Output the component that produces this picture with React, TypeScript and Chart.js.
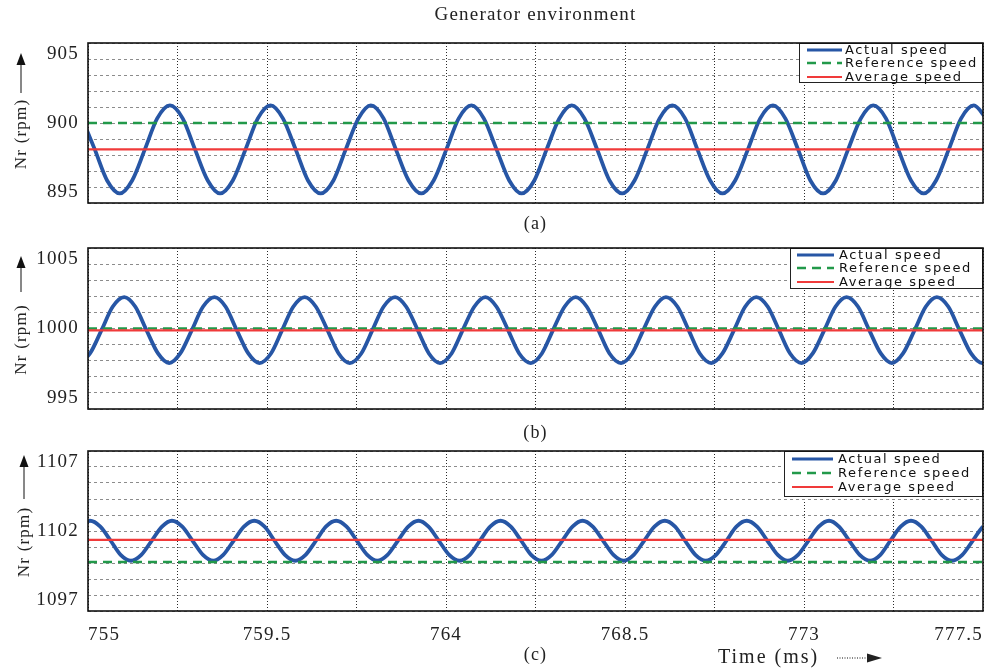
import React, { useEffect, useRef } from 'react';
import { Chart, registerables } from 'chart.js';

Chart.register(...registerables);

// ---------- shared axis / text data ----------
const X_MIN = 755;
const X_MAX = 777.5;
const X_STEP = 2.25;
const xTickLabels = ['755', '759.5', '764', '768.5', '773', '777.5'];
const legendLabels = ['Actual speed', 'Reference speed', 'Average speed'];
const chartTitle = 'Generator environment';
const yAxisTitle = 'Nr (rpm)';
const xAxisTitle = 'Time (ms)';
const captions = ['(a)', '(b)', '(c)'];

// ---------- panel (a) ----------
const timeA = [
  754.85, 755.17, 755.48, 755.80, 756.11, 756.43, 756.74,
  757.06, 757.38, 757.69, 758.01, 758.32, 758.64, 758.96, 759.27,
  759.59, 759.90, 760.22, 760.53, 760.85, 761.17, 761.48, 761.80,
  762.11, 762.43, 762.74, 763.06, 763.38, 763.69, 764.01, 764.32,
  764.64, 764.95, 765.27, 765.59, 765.90, 766.22, 766.53, 766.85,
  767.16, 767.48, 767.80, 768.11, 768.43, 768.74, 769.06, 769.37,
  769.69, 770.01, 770.32, 770.64, 770.95, 771.27, 771.59, 771.90,
  772.22, 772.53, 772.85, 773.16, 773.48, 773.80, 774.11, 774.43,
  774.74, 775.06, 775.37, 775.69, 776.01, 776.32, 776.64, 776.95,
  777.27, 777.58,
];
const speedA = [
  900.29, 898.35, 896.41, 895.60, 896.41, 898.35, 900.29,
  901.10, 900.29, 898.35, 896.41, 895.60, 896.41, 898.35, 900.29,
  901.10, 900.29, 898.35, 896.41, 895.60, 896.41, 898.35, 900.29,
  901.10, 900.29, 898.35, 896.41, 895.60, 896.41, 898.35, 900.29,
  901.10, 900.29, 898.35, 896.41, 895.60, 896.41, 898.35, 900.29,
  901.10, 900.29, 898.35, 896.41, 895.60, 896.41, 898.35, 900.29,
  901.10, 900.29, 898.35, 896.41, 895.60, 896.41, 898.35, 900.29,
  901.10, 900.29, 898.35, 896.41, 895.60, 896.41, 898.35, 900.29,
  901.10, 900.29, 898.35, 896.41, 895.60, 896.41, 898.35, 900.29,
  901.10, 900.29,
];
const refSpeedA = 900;
const avgSpeedA = 898.35;
const yRangeA = [895, 905];
const yLabelsA = ['895', '900', '905'];

// ---------- panel (b) ----------
const timeB = [
  754.77, 755.05, 755.34, 755.62,
  755.91, 756.19, 756.47, 756.76, 757.04, 757.32, 757.61, 757.89,
  758.18, 758.46, 758.74, 759.03, 759.31, 759.60, 759.88, 760.16,
  760.45, 760.73, 761.02, 761.30, 761.58, 761.87, 762.15, 762.43,
  762.72, 763.00, 763.29, 763.57, 763.85, 764.14, 764.42, 764.71,
  764.99, 765.27, 765.56, 765.84, 766.13, 766.41, 766.69, 766.98,
  767.26, 767.54, 767.83, 768.11, 768.40, 768.68, 768.96, 769.25,
  769.53, 769.82, 770.10, 770.38, 770.67, 770.95, 771.24, 771.52,
  771.80, 772.09, 772.37, 772.65, 772.94, 773.22, 773.51, 773.79,
  774.07, 774.36, 774.64, 774.93, 775.21, 775.49, 775.78, 776.06,
  776.34, 776.63, 776.91, 777.20, 777.48, 777.76,
];
const speedB = [
  997.85, 998.45, 999.90, 1001.35,
  1001.95, 1001.35, 999.90, 998.45, 997.85, 998.45, 999.90, 1001.35,
  1001.95, 1001.35, 999.90, 998.45, 997.85, 998.45, 999.90, 1001.35,
  1001.95, 1001.35, 999.90, 998.45, 997.85, 998.45, 999.90, 1001.35,
  1001.95, 1001.35, 999.90, 998.45, 997.85, 998.45, 999.90, 1001.35,
  1001.95, 1001.35, 999.90, 998.45, 997.85, 998.45, 999.90, 1001.35,
  1001.95, 1001.35, 999.90, 998.45, 997.85, 998.45, 999.90, 1001.35,
  1001.95, 1001.35, 999.90, 998.45, 997.85, 998.45, 999.90, 1001.35,
  1001.95, 1001.35, 999.90, 998.45, 997.85, 998.45, 999.90, 1001.35,
  1001.95, 1001.35, 999.90, 998.45, 997.85, 998.45, 999.90, 1001.35,
  1001.95, 1001.35, 999.90, 998.45, 997.85, 998.45,
];
const refSpeedB = 1000;
const avgSpeedB = 999.88;
const yRangeB = [995, 1005];
const yLabelsB = ['995', '1000', '1005'];

// ---------- panel (c) ----------
const timeC = [
  754.79,
  755.05, 755.31, 755.57, 755.82, 756.08, 756.34, 756.60, 756.86,
  757.11, 757.37, 757.63, 757.89, 758.15, 758.40, 758.66, 758.92,
  759.18, 759.44, 759.69, 759.95, 760.21, 760.47, 760.73, 760.98,
  761.24, 761.50, 761.76, 762.02, 762.27, 762.53, 762.79, 763.05,
  763.31, 763.56, 763.82, 764.08, 764.34, 764.60, 764.85, 765.11,
  765.37, 765.63, 765.89, 766.14, 766.40, 766.66, 766.92, 767.18,
  767.43, 767.69, 767.95, 768.21, 768.47, 768.72, 768.98, 769.24,
  769.50, 769.76, 770.01, 770.27, 770.53, 770.79, 771.05, 771.30,
  771.56, 771.82, 772.08, 772.34, 772.59, 772.85, 773.11, 773.37,
  773.63, 773.88, 774.14, 774.40, 774.66, 774.92, 775.17, 775.43,
  775.69, 775.95, 776.21, 776.46, 776.72, 776.98, 777.24, 777.50,
  777.75,
];
const speedC = [
  1102.27,
  1102.64, 1102.27, 1101.39, 1100.51, 1100.14, 1100.51, 1101.39, 1102.27,
  1102.64, 1102.27, 1101.39, 1100.51, 1100.14, 1100.51, 1101.39, 1102.27,
  1102.64, 1102.27, 1101.39, 1100.51, 1100.14, 1100.51, 1101.39, 1102.27,
  1102.64, 1102.27, 1101.39, 1100.51, 1100.14, 1100.51, 1101.39, 1102.27,
  1102.64, 1102.27, 1101.39, 1100.51, 1100.14, 1100.51, 1101.39, 1102.27,
  1102.64, 1102.27, 1101.39, 1100.51, 1100.14, 1100.51, 1101.39, 1102.27,
  1102.64, 1102.27, 1101.39, 1100.51, 1100.14, 1100.51, 1101.39, 1102.27,
  1102.64, 1102.27, 1101.39, 1100.51, 1100.14, 1100.51, 1101.39, 1102.27,
  1102.64, 1102.27, 1101.39, 1100.51, 1100.14, 1100.51, 1101.39, 1102.27,
  1102.64, 1102.27, 1101.39, 1100.51, 1100.14, 1100.51, 1101.39, 1102.27,
  1102.64, 1102.27, 1101.39, 1100.51, 1100.14, 1100.51, 1101.39, 1102.27,
  1102.64,
];
const refSpeedC = 1100.06;
const avgSpeedC = 1101.44;
const yRangeC = [1097, 1107];
const yLabelsC = ['1097', '1102', '1107'];

// ---------- styles ----------
const BLUE = '#2756a5';
const GREEN = '#22994a';
const RED = '#f03a3a';
const SERIF = "'Liberation Serif', 'Times New Roman', serif";

const panels = [
  {
    time: timeA, speed: speedA, ref: refSpeedA, avg: avgSpeedA, yRange: yRangeA, yLabels: yLabelsA,
    caption: captions[0], top: 0, height: 236, padTop: 0, xAxisH: 33, capPad: 1.2,
    showTitle: true, showX: false, yTitlePad: 11,
    legend: { w: 184, h: 40, lx1: 8, lx2: 43, tx: 46, rows: [7, 20, 34] },
    arrow: { x: 21, tip: 10, base: 50 },
  },
  {
    time: timeB, speed: speedB, ref: refSpeedB, avg: avgSpeedB, yRange: yRangeB, yLabels: yLabelsB,
    caption: captions[1], top: 236, height: 209, padTop: 12, xAxisH: 36, capPad: 1.2,
    showTitle: false, showX: false, yTitlePad: 11,
    legend: { w: 193, h: 41, lx1: 7, lx2: 44, tx: 49, rows: [7, 20, 34] },
    arrow: { x: 21, tip: 8, base: 44 },
  },
  {
    time: timeC, speed: speedC, ref: refSpeedC, avg: avgSpeedC, yRange: yRangeC, yLabels: yLabelsC,
    caption: captions[2], top: 445, height: 224, padTop: 6, xAxisH: 58, capPad: 3.2,
    showTitle: false, showX: true, yTitlePad: 14,
    legend: { w: 199, h: 46, lx1: 8, lx2: 49, tx: 54, rows: [8, 22, 36] },
    arrow: { x: 24, tip: 4, base: 48 },
  },
];

const legendWidths = [3, 2.5, 2];

const decorPlugin = {
  id: 'panelDecor',
  beforeDraw(chart: any) {
    (chart.ctx as any).letterSpacing = '1.2px';
  },
  afterDraw(chart: any, _args: any, opts: any) {
    const ctx = chart.ctx as any;
    const a = chart.chartArea;
    ctx.save();
    ctx.setLineDash([]);

    // legend box
    const L = opts.legend;
    const bx = a.right - L.w;
    const by = a.top;
    ctx.fillStyle = '#ffffff';
    ctx.fillRect(bx, by, L.w, L.h);
    ctx.strokeStyle = '#222';
    ctx.lineWidth = 1;
    ctx.strokeRect(bx + 0.5, by + 0.5, L.w - 1, L.h - 1);
    ctx.font = "13px 'DejaVu Sans', sans-serif";
    ctx.letterSpacing = '1.6px';
    ctx.textAlign = 'left';
    ctx.textBaseline = 'middle';
    chart.data.datasets.forEach((ds: any, i: number) => {
      const y = by + L.rows[i];
      ctx.strokeStyle = ds.borderColor;
      ctx.lineWidth = legendWidths[i];
      ctx.setLineDash(ds.borderDash || []);
      ctx.beginPath();
      ctx.moveTo(bx + L.lx1, y);
      ctx.lineTo(bx + L.lx2, y);
      ctx.stroke();
      ctx.setLineDash([]);
      ctx.fillStyle = '#111';
      ctx.fillText(ds.label, bx + L.tx, y + 0.5);
    });

    // plot frame
    ctx.strokeStyle = '#111';
    ctx.lineWidth = 1.6;
    ctx.strokeRect(a.left, a.top, a.right - a.left, a.bottom - a.top);

    // y-axis arrow (points upward)
    const ar = opts.arrow;
    ctx.strokeStyle = '#111';
    ctx.fillStyle = '#111';
    ctx.lineWidth = 1;
    ctx.beginPath();
    ctx.moveTo(ar.x, a.top + ar.base);
    ctx.lineTo(ar.x, a.top + ar.tip + 10);
    ctx.stroke();
    ctx.beginPath();
    ctx.moveTo(ar.x, a.top + ar.tip);
    ctx.lineTo(ar.x - 4.5, a.top + ar.tip + 12);
    ctx.lineTo(ar.x + 4.5, a.top + ar.tip + 12);
    ctx.closePath();
    ctx.fill();

    // time axis label with dotted arrow
    if (opts.timeLabel) {
      const y = chart.height - 11;
      ctx.font = `20px ${SERIF}`;
      ctx.letterSpacing = '2px';
      ctx.textAlign = 'left';
      ctx.textBaseline = 'middle';
      ctx.fillStyle = '#222';
      ctx.fillText(xAxisTitle, 718, y);
      ctx.setLineDash([1, 1.5]);
      ctx.lineWidth = 1.2;
      ctx.beginPath();
      ctx.moveTo(837, y);
      ctx.lineTo(868, y);
      ctx.stroke();
      ctx.setLineDash([]);
      ctx.beginPath();
      ctx.moveTo(882, y);
      ctx.lineTo(867, y - 4.5);
      ctx.lineTo(867, y + 4.5);
      ctx.closePath();
      ctx.fill();
    }
    ctx.restore();
  },
};

function buildConfig(p: any): any {
  const pts = p.time.map((t: number, i: number) => ({ x: t, y: p.speed[i] }));
  const [yMin, yMax] = p.yRange;
  const yMid = (yMin + yMax) / 2;
  return {
    type: 'line',
    data: {
      datasets: [
        {
          label: legendLabels[0], data: pts, borderColor: BLUE, borderWidth: 3.8,
          pointRadius: 0, cubicInterpolationMode: 'monotone', fill: false, order: 3,
        },
        {
          label: legendLabels[1], data: [{ x: X_MIN, y: p.ref }, { x: X_MAX, y: p.ref }],
          borderColor: GREEN, borderWidth: 2.5, borderDash: [9, 6], pointRadius: 0, fill: false, order: 2,
        },
        {
          label: legendLabels[2], data: [{ x: X_MIN, y: p.avg }, { x: X_MAX, y: p.avg }],
          borderColor: RED, borderWidth: 2.2, pointRadius: 0, fill: false, order: 1,
        },
      ],
    },
    options: {
      animation: false,
      responsive: false,
      devicePixelRatio: 1,
      events: [],
      layout: { padding: { top: p.padTop, left: 0, right: 1, bottom: 0 } },
      plugins: {
        legend: { display: false },
        tooltip: { enabled: false },
        title: {
          display: p.showTitle, text: chartTitle, color: '#222', fullSize: false,
          font: { family: SERIF, size: 19, weight: 'normal' },
          padding: { top: 3.6, bottom: 16.6 },
        },
        panelDecor: { legend: p.legend, arrow: p.arrow, timeLabel: p.showX },
      },
      scales: {
        x: {
          type: 'linear', min: X_MIN, max: X_MAX,
          ticks: {
            stepSize: X_STEP, autoSkip: false, maxRotation: 0, minRotation: 0,
            display: p.showX, align: 'inner', padding: 12.6, color: '#222',
            font: { family: SERIF, size: 19 },
            callback: (_v: any, i: number) => (i % 2 === 0 ? xTickLabels[i / 2] : ''),
          },
          grid: { color: '#2a2a2a', lineWidth: 1, drawTicks: false },
          border: { display: false, dash: [1, 2] },
          title: {
            display: true, text: p.caption, color: '#222',
            font: { family: SERIF, size: 18 }, padding: { top: 0, bottom: p.capPad },
          },
          afterFit: (s: any) => { s.height = p.xAxisH; s.paddingLeft = 0; s.paddingRight = 0; },
        },
        y: {
          type: 'linear', min: yMin, max: yMax,
          ticks: {
            stepSize: 1, autoSkip: false, padding: 9, color: '#222',
            font: { family: SERIF, size: 19 },
            callback: (v: number) => {
              if (Math.abs(v - yMin) < 1e-6) return [p.yLabels[0], ''];
              if (Math.abs(v - yMid) < 1e-6) return p.yLabels[1];
              if (Math.abs(v - yMax) < 1e-6) return ['', p.yLabels[2]];
              return '';
            },
          },
          grid: { color: '#8c8c8c', lineWidth: 1, drawTicks: false },
          border: { display: false, dash: [3, 3] },
          title: {
            display: true, text: yAxisTitle + '    ', color: '#222',
            font: { family: SERIF, size: 17 }, padding: { top: p.yTitlePad, bottom: 0 },
          },
          afterFit: (s: any) => { s.width = 88; s.paddingTop = 0; s.paddingBottom = 0; },
        },
      },
    },
    plugins: [decorPlugin],
  };
}

function Panel({ p }: { p: any }) {
  const ref = useRef<HTMLCanvasElement>(null);
  useEffect(() => {
    const chart = new Chart(ref.current as HTMLCanvasElement, buildConfig(p));
    return () => chart.destroy();
  }, [p]);
  return (
    <canvas
      ref={ref}
      width={984}
      height={p.height}
      style={{ position: 'absolute', left: 0, top: p.top, width: 984, height: p.height }}
    />
  );
}

export default function App() {
  return (
    <div
      style={{
        position: 'absolute', left: 0, top: 0, width: 984, height: 669,
        background: '#ffffff', overflow: 'hidden',
      }}
    >
      {panels.map((p, i) => (
        <Panel key={i} p={p} />
      ))}
    </div>
  );
}
